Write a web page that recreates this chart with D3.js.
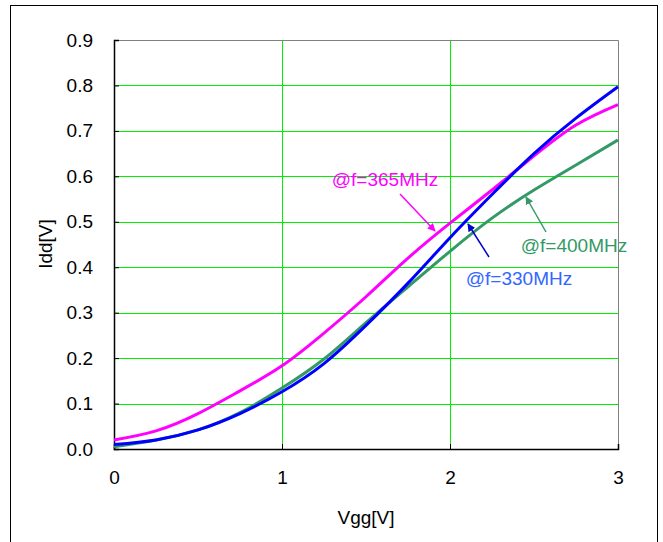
<!DOCTYPE html>
<html>
<head>
<meta charset="utf-8">
<script src="https://cdn.jsdelivr.net/npm/d3@7"></script>
<style>
  body { margin: 0; background: #fff; }
  text { font-family: "Liberation Sans", Arial, sans-serif; }
</style>
</head>
<body>
<svg id="chart" width="663" height="542"></svg>
<script>
/* Chart data */
var vgg = [0, 0.25, 0.5, 0.75, 1, 1.25, 1.5, 1.75, 2, 2.25, 2.5, 2.75, 3];
var idd330 = [0.01, 0.02, 0.042, 0.078, 0.126, 0.188, 0.272, 0.365, 0.465, 0.56, 0.65, 0.728, 0.797];
var idd365 = [0.02, 0.04, 0.078, 0.128, 0.183, 0.255, 0.335, 0.42, 0.497, 0.57, 0.645, 0.713, 0.758];
var idd400 = [0.005, 0.02, 0.042, 0.08, 0.134, 0.198, 0.278, 0.357, 0.435, 0.508, 0.57, 0.625, 0.68];
var xTicks = [0, 1, 2, 3];
var yTicks = [0, 0.1, 0.2, 0.3, 0.4, 0.5, 0.6, 0.7, 0.8, 0.9];
var seriesNames = ["@f=330MHz", "@f=365MHz", "@f=400MHz"];

var svg = d3.select("#chart");
var margin = { left: 114, right: 45, top: 40, bottom: 93 };
var width = 663 - margin.left - margin.right,
    height = 542 - margin.top - margin.bottom;

// outer frame
svg.append("rect")
    .attr("x", 10.5).attr("y", 5.5)
    .attr("width", 647).attr("height", 560)
    .attr("fill", "none").attr("stroke", "#000").attr("stroke-width", 1);

var x = d3.scaleLinear().domain([0, 3]).range([0, width]);
var y = d3.scaleLinear().domain([0, 0.9]).range([height, 0]);

var g = svg.append("g")
    .attr("transform", "translate(" + margin.left + "," + margin.top + ")");

// grid
g.selectAll(".hgrid").data(yTicks.slice(1, -1)).enter().append("line")
    .attr("x1", 0).attr("x2", width)
    .attr("y1", function (d) { return Math.round(y(d)) + 0.5; })
    .attr("y2", function (d) { return Math.round(y(d)) + 0.5; })
    .attr("stroke", "#00ee00").attr("stroke-width", 1);
g.selectAll(".vgrid").data(xTicks.slice(1, -1)).enter().append("line")
    .attr("y1", 0).attr("y2", height)
    .attr("x1", function (d) { return Math.round(x(d)) + 0.5; })
    .attr("x2", function (d) { return Math.round(x(d)) + 0.5; })
    .attr("stroke", "#00ee00").attr("stroke-width", 1);

// plot border (top/right gray)
g.append("path")
    .attr("d", "M0.5,0.5H" + (width + 0.5) + "V" + (height + 0.5))
    .attr("fill", "none").attr("stroke", "#808080");

// axes
var yAxis = g.append("g")
    .call(d3.axisLeft(y).tickValues(yTicks).tickFormat(d3.format(".1f")).tickSize(-5).tickPadding(21));
var xAxis = g.append("g")
    .attr("transform", "translate(0," + height + ")")
    .call(d3.axisBottom(x).tickValues(xTicks).tickFormat(d3.format("d")).tickSize(-5).tickPadding(22));
[yAxis, xAxis].forEach(function (a) {
    a.select(".domain").attr("stroke", "#000").attr("stroke-width", 1.5);
    a.selectAll(".tick line").attr("stroke", "#000");
    a.selectAll("text").attr("font-size", 19).attr("fill", "#000")
        .style("font-family", "'Liberation Sans', Arial, sans-serif");
});

// axis titles
svg.append("text")
    .attr("x", 366).attr("y", 524)
    .attr("text-anchor", "middle").attr("font-size", 19)
    .text("Vgg[V]");
svg.append("text")
    .attr("transform", "translate(52,244) rotate(-90)")
    .attr("text-anchor", "middle").attr("font-size", 19)
    .text("Idd[V]");

// lines
var series = [
    { name: seriesNames[0], values: idd330, color: "#0000ff" },
    { name: seriesNames[1], values: idd365, color: "#ff00ff" },
    { name: seriesNames[2], values: idd400, color: "#339966" }
];
var line = d3.line()
    .x(function (d, i) { return x(vgg[i]); })
    .y(function (d) { return y(d); })
    .curve(d3.curveNatural);

[series[2], series[1], series[0]].forEach(function (s) {
    g.append("path")
        .datum(s.values)
        .attr("d", line)
        .attr("fill", "none")
        .attr("stroke", s.color)
        .attr("stroke-width", 3);
});

// annotations with arrows
var defs = svg.append("defs");
function marker(id, color) {
    defs.append("marker")
        .attr("id", id)
        .attr("viewBox", "0 0 10 10")
        .attr("refX", 9).attr("refY", 5)
        .attr("markerWidth", 8).attr("markerHeight", 8)
        .attr("markerUnits", "userSpaceOnUse")
        .attr("orient", "auto")
        .append("path").attr("d", "M0,0L10,5L0,10z").attr("fill", color);
}
marker("a330", "#0000cc");
marker("a365", "#ff00ff");
marker("a400", "#339966");

var notes = [
    { text: seriesNames[1], color: "#ff00ff", arrow: "#ff00ff", id: "a365", tx: 385, ty: 186, from: [400, 194], to: [435, 231] },
    { text: seriesNames[0], color: "#3366ff", arrow: "#0000cc", id: "a330", tx: 519, ty: 285, from: [489, 257], to: [468, 224] },
    { text: seriesNames[2], color: "#339966", arrow: "#339966", id: "a400", tx: 574, ty: 252, from: [546, 232], to: [526, 197] }
];
notes.forEach(function (n) {
    svg.append("line")
        .attr("x1", n.from[0]).attr("y1", n.from[1])
        .attr("x2", n.to[0]).attr("y2", n.to[1])
        .attr("stroke", n.arrow).attr("stroke-width", 1.5)
        .attr("marker-end", "url(#" + n.id + ")");
    svg.append("text")
        .attr("x", n.tx).attr("y", n.ty)
        .attr("text-anchor", "middle")
        .attr("font-size", 19)
        .attr("fill", n.color)
        .text(n.text);
});
</script>
</body>
</html>
